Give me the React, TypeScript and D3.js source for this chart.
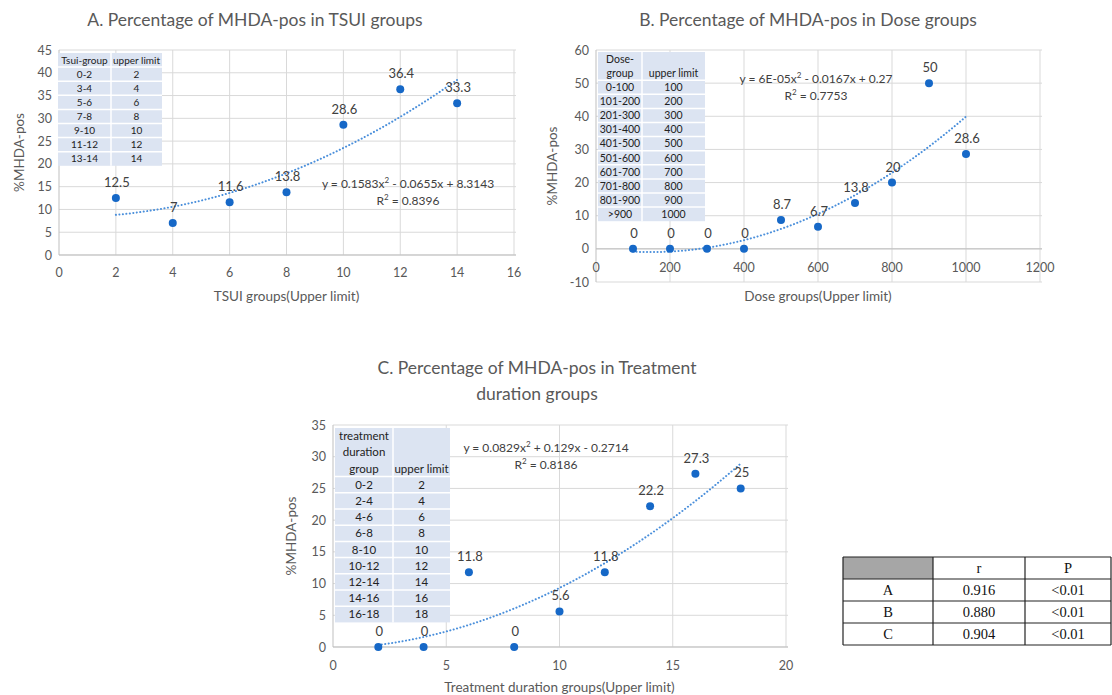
import * as d3 from 'd3';
import React from 'react';

// ---- data ----
const tsuiX = [2, 4, 6, 8, 10, 12, 14];
const tsuiY = [12.5, 7, 11.6, 13.8, 28.6, 36.4, 33.3];
const tsuiGroups = ['0-2', '3-4', '5-6', '7-8', '9-10', '11-12', '13-14'];

const doseX = [100, 200, 300, 400, 500, 600, 700, 800, 900, 1000];
const doseY = [0, 0, 0, 0, 8.7, 6.7, 13.8, 20, 50, 28.6];
const doseGroups = ['0-100', '101-200', '201-300', '301-400', '401-500', '501-600', '601-700', '701-800', '801-900', '>900'];

const durX = [2, 4, 6, 8, 10, 12, 14, 16, 18];
const durY = [0, 0, 11.8, 0, 5.6, 11.8, 22.2, 27.3, 25];
const durGroups = ['0-2', '2-4', '4-6', '6-8', '8-10', '10-12', '12-14', '14-16', '16-18'];

const corrRows = ['A', 'B', 'C'];
const corrR = ['0.916', '0.880', '0.904'];
const corrP = ['<0.01', '<0.01', '<0.01'];

const FONT = 'Lato, "Open Sans", sans-serif';
const GRID = '#d9d9d9';
const TICK = '#595959';
const DOT = '#1668c7';
const TREND = '#4a8fdb';

// least squares quadratic fit (what Excel's trendline does)
function quadFit(xs: number[], ys: number[]) {
  const s = (f: (x: number, y: number) => number) => d3.sum(xs, (x, i) => f(x, ys[i]));
  const n = xs.length;
  const sx = s(x => x), sx2 = s(x => x * x), sx3 = s(x => x ** 3), sx4 = s(x => x ** 4);
  const sy = s((x, y) => y), sxy = s((x, y) => x * y), sx2y = s((x, y) => x * x * y);
  const M = [[sx4, sx3, sx2, sx2y], [sx3, sx2, sx, sxy], [sx2, sx, n, sy]];
  for (let i = 0; i < 3; i++) {
    for (let k = i + 1; k < 3; k++) {
      const f = M[k][i] / M[i][i];
      for (let j = i; j < 4; j++) M[k][j] -= f * M[i][j];
    }
  }
  const r = [0, 0, 0];
  for (let i = 2; i >= 0; i--) {
    let v = M[i][3];
    for (let j = i + 1; j < 3; j++) v -= M[i][j] * r[j];
    r[i] = v / M[i][i];
  }
  return (x: number) => r[0] * x * x + r[1] * x + r[2];
}

type PanelProps = {
  xs: number[];
  ys: number[];
  xDomain: [number, number];
  xRange: [number, number];
  xStep: number;
  yDomain: [number, number];
  yRange: [number, number];
  yStep: number;
  xTickY: number;
  xAxisAt: number;
  title: string[];
  titleX: number;
  titleY: number;
  xLabel: string;
  xLabelY: number;
  yLabelX: number;
  eq: string[];
  eqX: number;
  eqY: number;
  table: { x: number; y: number; w1: number; w2: number; rowH: number; headRows: number; fs: number; head1: string[]; head2: string; groups: string[]; limits: number[] };
};

function Panel(p: PanelProps) {
  const x = d3.scaleLinear().domain(p.xDomain).range(p.xRange);
  const y = d3.scaleLinear().domain(p.yDomain).range(p.yRange);
  const xTicks = d3.range(p.xDomain[0], p.xDomain[1] + p.xStep / 2, p.xStep);
  const yTicks = d3.range(p.yDomain[0], p.yDomain[1] + p.yStep / 2, p.yStep);
  const fit = quadFit(p.xs, p.ys);
  const xmin = d3.min(p.xs)!, xmax = d3.max(p.xs)!;
  const curvePts = d3.range(0, 101).map(i => xmin + (xmax - xmin) * i / 100);
  const line = d3.line<number>().x(d => x(d)).y(d => y(fit(d)));
  const t = p.table;
  const headH = t.rowH * t.headRows;
  const yMid = (p.yRange[0] + p.yRange[1]) / 2;

  return (
    <g>
      {p.title.map((s, i) => (
        <text key={i} x={p.titleX} y={p.titleY + i * 26} textAnchor="middle" fontSize={17.5} fill="#595959" fontFamily={FONT}>{s}</text>
      ))}
      {yTicks.map(v => (
        <line key={'h' + v} x1={p.xRange[0]} x2={p.xRange[1] + 2} y1={y(v)} y2={y(v)} stroke={GRID} />
      ))}
      {xTicks.map(v => v === p.xDomain[0] ? null : (
        <line key={'v' + v} x1={x(v)} x2={x(v)} y1={p.yRange[0]} y2={p.yRange[1]} stroke={GRID} />
      ))}
      <line x1={p.xRange[0]} x2={p.xRange[0]} y1={p.yRange[0]} y2={p.yRange[1]} stroke="#bfbfbf" />
      <line x1={p.xRange[0]} x2={p.xRange[1] + 2} y1={y(p.xAxisAt)} y2={y(p.xAxisAt)} stroke="#bfbfbf" />
      {yTicks.map(v => (
        <text key={'yt' + v} x={p.xRange[0] - 7} y={y(v) + 4.5} textAnchor="end" fontSize={12.5} fill={TICK} fontFamily={FONT}>{v}</text>
      ))}
      {xTicks.map(v => (
        <text key={'xt' + v} x={x(v)} y={p.xTickY} textAnchor="middle" fontSize={12.5} fill={TICK} fontFamily={FONT}>{v}</text>
      ))}
      <text x={(p.xRange[0] + p.xRange[1]) / 2} y={p.xLabelY} textAnchor="middle" fontSize={13.5} fill={TICK} fontFamily={FONT}>{p.xLabel}</text>
      <text transform={`translate(${p.yLabelX},${yMid}) rotate(-90)`} textAnchor="middle" fontSize={13.5} fill={TICK} fontFamily={FONT}>%MHDA-pos</text>

      {/* inset table */}
      <rect x={t.x} y={t.y} width={t.w1 + t.w2} height={headH + t.rowH * t.groups.length} fill="#dce4f2" />
      {t.groups.map((g, i) => (
        <line key={'tl' + i} x1={t.x} x2={t.x + t.w1 + t.w2} y1={t.y + headH + i * t.rowH} y2={t.y + headH + i * t.rowH} stroke="#fff" strokeWidth={1.5} />
      ))}
      <line x1={t.x + t.w1} x2={t.x + t.w1} y1={t.y} y2={t.y + headH + t.rowH * t.groups.length} stroke="#fff" strokeWidth={1.5} />
      {t.head1.map((s, i) => (
        <text key={'h1' + i} x={t.x + t.w1 / 2} y={t.y + (i + 0.5) * t.rowH + t.fs * 0.36 + (t.headRows - t.head1.length) * t.rowH} textAnchor="middle" fontSize={t.fs} fill="#222" fontFamily={FONT}>{s}</text>
      ))}
      <text x={t.x + t.w1 + t.w2 / 2} y={t.y + (t.headRows - 0.5) * t.rowH + t.fs * 0.36} textAnchor="middle" fontSize={t.fs} fill="#222" fontFamily={FONT}>{t.head2}</text>
      {t.groups.map((g, i) => (
        <g key={'tr' + i}>
          <text x={t.x + t.w1 / 2} y={t.y + headH + (i + 0.5) * t.rowH + t.fs * 0.36} textAnchor="middle" fontSize={t.fs} fill="#222" fontFamily={FONT}>{g}</text>
          <text x={t.x + t.w1 + t.w2 / 2} y={t.y + headH + (i + 0.5) * t.rowH + t.fs * 0.36} textAnchor="middle" fontSize={t.fs} fill="#222" fontFamily={FONT}>{t.limits[i]}</text>
        </g>
      ))}

      <path d={line(curvePts) || ''} fill="none" stroke={TREND} strokeWidth={2} strokeDasharray="0.1 3.4" strokeLinecap="round" />
      {p.xs.map((v, i) => (
        <g key={'p' + i}>
          <circle cx={x(v)} cy={y(p.ys[i])} r={4} fill={DOT} />
          <text x={x(v) + 1} y={y(p.ys[i]) - 11} textAnchor="middle" fontSize={13} fill="#404040" fontFamily={FONT}>{p.ys[i]}</text>
        </g>
      ))}
      {p.eq.map((s, i) => (
        <text key={'eq' + i} x={p.eqX} y={p.eqY + i * 17} textAnchor="middle" fontSize={12} fill="#404040" fontFamily={FONT}
          dangerouslySetInnerHTML={{ __html: s }} />
      ))}
    </g>
  );
}

function CorrTable() {
  const x0 = 843, y0 = 557, rh = 22;
  const cols = [x0, 933, 1025, 1111];
  const serif = '"Liberation Serif", "DejaVu Serif", serif';
  const rows = [['', 'r', 'P'], ...corrRows.map((r, i) => [r, corrR[i], corrP[i]])];
  return (
    <g>
      <rect x={cols[0]} y={y0} width={cols[1] - cols[0]} height={rh} fill="#a6a6a6" />
      {rows.map((row, i) => row.map((c, j) => (
        <text key={i + '-' + j} x={(cols[j] + cols[j + 1]) / 2} y={y0 + i * rh + 16} textAnchor="middle" fontSize={14.5} fill="#111" fontFamily={serif}>{c}</text>
      )))}
      {d3.range(rows.length + 1).map(i => (
        <line key={'r' + i} x1={cols[0]} x2={cols[3]} y1={y0 + i * rh} y2={y0 + i * rh} stroke="#222" strokeWidth={1.2} />
      ))}
      {cols.map((c, i) => (
        <line key={'c' + i} x1={c} x2={c} y1={y0} y2={y0 + rows.length * rh} stroke="#222" strokeWidth={1.2} />
      ))}
    </g>
  );
}

export default function App() {
  return (
    <svg width={1112} height={695} style={{ position: 'absolute', left: 0, top: 0, background: '#fff' }}>
      <Panel xs={tsuiX} ys={tsuiY} xDomain={[0, 16]} xRange={[59, 514]} xStep={2} yDomain={[0, 45]} yRange={[255, 50]} yStep={5}
        xTickY={277} xAxisAt={0} title={['A. Percentage of MHDA-pos in TSUI groups']} titleX={255} titleY={26}
        xLabel="TSUI groups(Upper limit)" xLabelY={301} yLabelX={24}
        eq={['y = 0.1583x<tspan dy="-5" font-size="8">2</tspan><tspan dy="5"> - 0.0655x + 8.3143</tspan>', 'R<tspan dy="-5" font-size="8">2</tspan><tspan dy="5"> = 0.8396</tspan>']} eqX={408} eqY={188}
        table={{ x: 58, y: 53, w1: 53, w2: 51, rowH: 14.1, headRows: 1, fs: 10, head1: ['Tsui-group'], head2: 'upper limit', groups: tsuiGroups, limits: tsuiX }} />
      <Panel xs={doseX} ys={doseY} xDomain={[0, 1200]} xRange={[596, 1040]} xStep={200} yDomain={[-10, 60]} yRange={[282, 50]} yStep={10}
        xTickY={272} xAxisAt={0} title={['B. Percentage of MHDA-pos in Dose groups']} titleX={808} titleY={26}
        xLabel="Dose groups(Upper limit)" xLabelY={301} yLabelX={557}
        eq={['y = 6E-05x<tspan dy="-5" font-size="8">2</tspan><tspan dy="5"> - 0.0167x + 0.27</tspan>', 'R<tspan dy="-5" font-size="8">2</tspan><tspan dy="5"> = 0.7753</tspan>']} eqX={816} eqY={83}
        table={{ x: 598, y: 52, w1: 44, w2: 63, rowH: 14.1, headRows: 2, fs: 10.5, head1: ['Dose-', 'group'], head2: 'upper limit', groups: doseGroups, limits: doseX }} />
      <Panel xs={durX} ys={durY} xDomain={[0, 20]} xRange={[333, 786]} xStep={5} yDomain={[0, 35]} yRange={[647, 425]} yStep={5}
        xTickY={670} xAxisAt={0} title={['C. Percentage of MHDA-pos in Treatment', 'duration groups']} titleX={537} titleY={374}
        xLabel="Treatment duration groups(Upper limit)" xLabelY={692} yLabelX={296}
        eq={['y = 0.0829x<tspan dy="-5" font-size="8">2</tspan><tspan dy="5"> + 0.129x - 0.2714</tspan>', 'R<tspan dy="-5" font-size="8">2</tspan><tspan dy="5"> = 0.8186</tspan>']} eqX={546} eqY={452}
        table={{ x: 335, y: 428, w1: 58, w2: 57, rowH: 16.2, headRows: 3, fs: 11.5, head1: ['treatment', 'duration', 'group'], head2: 'upper limit', groups: durGroups, limits: durX }} />
      <CorrTable />
    </svg>
  );
}
